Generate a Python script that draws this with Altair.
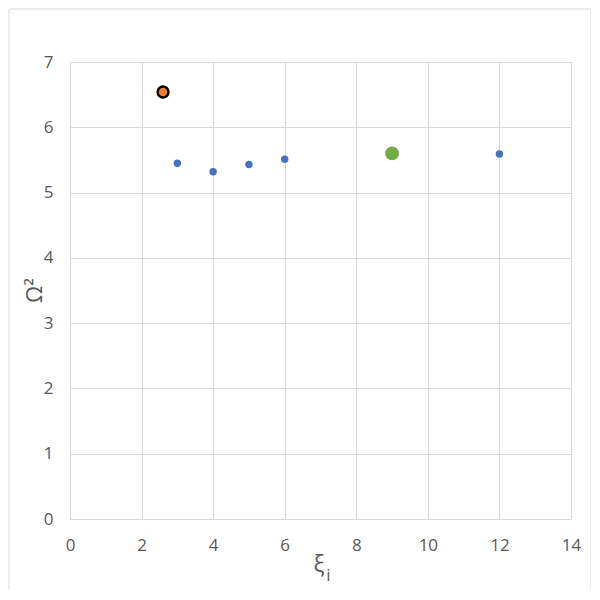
import altair as alt
import pandas as pd

# data
blue_x = [3, 4, 5, 6, 12]
blue_y = [5.45, 5.32, 5.43, 5.51, 5.59]
orange_x = [2.6]
orange_y = [6.54]
green_x = [9.0]
green_y = [5.60]
x_ticks = [0, 2, 4, 6, 8, 10, 12, 14]
y_ticks = [0, 1, 2, 3, 4, 5, 6, 7]
x_title_main = "ξ"
x_title_sub = "i"

df_blue = pd.DataFrame({"x": blue_x, "y": blue_y})
df_orange = pd.DataFrame({"x": orange_x, "y": orange_y})
df_green = pd.DataFrame({"x": green_x, "y": green_y})

FONT = "Open Sans"
LBL = "#595959"

xscale = alt.Scale(domain=[0, 14], nice=False, zero=False)
yscale = alt.Scale(domain=[0, 7], nice=False, zero=False)

xaxis = alt.Axis(values=x_ticks, format="d", title=None, grid=True,
                 gridColor="#D9D9D9", domain=False, ticks=False, labelFlush=False,
                 labelPadding=18, labelFontSize=17, labelColor=LBL, labelFont=FONT)
yaxis = alt.Axis(values=y_ticks, format="d", title="Ω²", grid=True,
                 gridColor="#D9D9D9", domain=False, ticks=False, labelFlush=False,
                 labelPadding=17, labelFontSize=17, labelColor=LBL, labelFont=FONT,
                 titleFontSize=22, titleColor=LBL, titleFont=FONT, titleFontWeight="normal",
                 titleAngle=270, titleX=-29, titleY=228, titleBaseline="alphabetic",
                 titleAlign="center")

border = alt.Chart(pd.DataFrame({"a": [0]})).mark_rect(
    fill=None, stroke="#D9D9D9", strokeWidth=1, clip=False
).encode(x=alt.value(-61), x2=alt.value(521), y=alt.value(-53), y2=alt.value(529))

blue = alt.Chart(df_blue).mark_circle(size=55, color="#4472C4", opacity=1).encode(
    x=alt.X("x:Q", scale=xscale, axis=xaxis),
    y=alt.Y("y:Q", scale=yscale, axis=yaxis),
)
green = alt.Chart(df_green).mark_circle(size=190, color="#70AD47", opacity=1).encode(
    x=alt.X("x:Q", scale=xscale), y=alt.Y("y:Q", scale=yscale)
)
orange = alt.Chart(df_orange).mark_point(
    shape="circle", size=120, filled=True, fill="#ED7D31", stroke="black",
    strokeWidth=2.4, opacity=1
).encode(x=alt.X("x:Q", scale=xscale), y=alt.Y("y:Q", scale=yscale))

xt_main = alt.Chart(pd.DataFrame({"t": [x_title_main]})).mark_text(
    font=FONT, fontSize=23, color=LBL, align="center", baseline="alphabetic", clip=False
).encode(text="t:N", x=alt.value(249), y=alt.value(510))
xt_sub = alt.Chart(pd.DataFrame({"t": [x_title_sub]})).mark_text(
    font=FONT, fontSize=17, color=LBL, align="center", baseline="alphabetic", clip=False
).encode(text="t:N", x=alt.value(258.5), y=alt.value(519))

chart = alt.layer(border, blue, green, orange, xt_main, xt_sub).properties(
    width=501, height=457,
    autosize=alt.AutoSizeParams(type="none"),
    padding={"left": 62, "top": 54, "right": 20, "bottom": 70},
).configure_view(stroke=None).configure(background="white")

chart.save("out.html", embed_options={"renderer": "svg", "actions": False})
